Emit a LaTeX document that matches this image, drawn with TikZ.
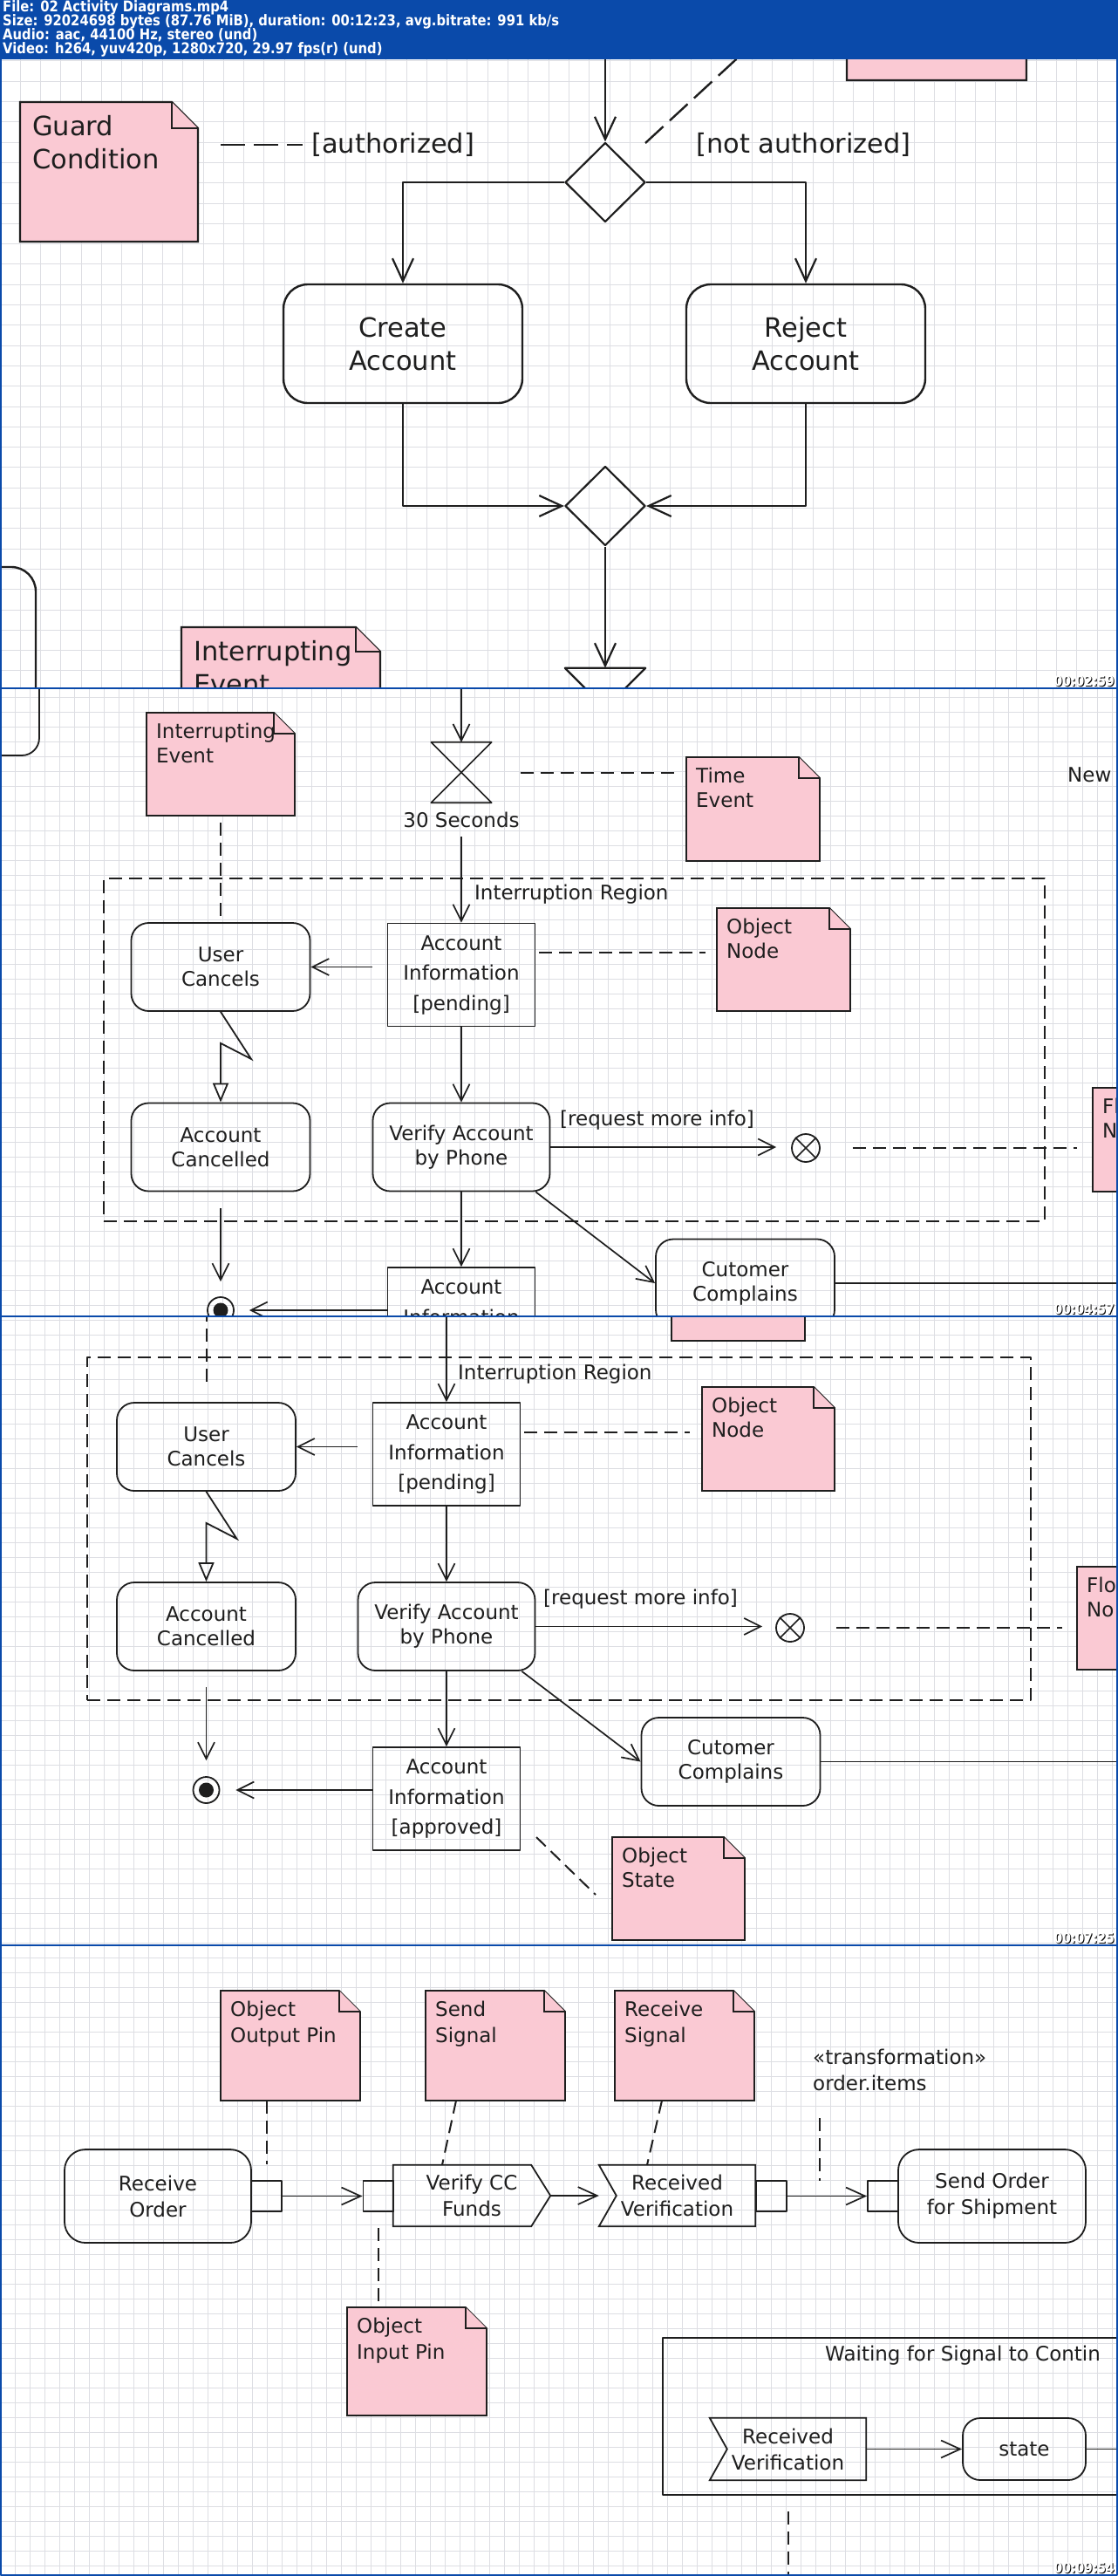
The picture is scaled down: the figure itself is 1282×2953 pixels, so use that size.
\documentclass[tikz,border=0pt]{standalone}
\usepackage{fontspec}
\setmainfont{DejaVu Sans}
\newfontfamily\hdrfont[FakeStretch=0.87]{DejaVu Sans}
\usetikzlibrary{arrows.meta,shapes.geometric}

\definecolor{hdrblue}{RGB}{10,74,170}
\definecolor{notepink}{RGB}{250,201,211}
\definecolor{gridgray}{RGB}{221,222,227}
\definecolor{inkgray}{RGB}{30,30,30}

\newcommand{\fonti}{\fontsize{30.5}{38}\selectfont}
\newcommand{\fontii}{\fontsize{23}{28}\selectfont}
\newcommand{\fontobj}{\fontsize{23}{34.5}\selectfont}
\newcommand{\fontiv}{\fontsize{23}{30}\selectfont}

% pink note with folded corner: name, x1, y1, x2, y2, fold, text
\newcommand{\umlnote}[7]{%
  \node[notebox, minimum width={#4-#2}, minimum height={#5-#3}] (#1) at ({(#2+#4)/2},{(#3+#5)/2}) {};
  \filldraw[notepath] (#1.north west) -- ([xshift=-#6pt]#1.north east) -- ([yshift=-#6pt]#1.north east) -- (#1.south east) -- (#1.south west) -- cycle;
  \draw[notepath] ([xshift=-#6pt]#1.north east) |- ([yshift=-#6pt]#1.north east);
  \node[notetext] (#1-text) at (#1.north west) {#7};
}

\begin{document}
\begin{tikzpicture}[x=1pt,y=-1pt,line join=round]

\tikzstyle{gridline}=[gridgray, line width=1pt]
\tikzstyle{act}=[draw=inkgray, rounded corners=20pt, line width=1.8pt, align=center, inner sep=0pt, minimum width=205pt, minimum height=101pt, text=inkgray, font=\fontii]
\tikzstyle{actbig}=[act, rounded corners=28pt, line width=2.4pt, minimum width=274pt, minimum height=136pt, font=\fonti]
\tikzstyle{obj}=[draw=inkgray, line width=1.8pt, align=center, inner sep=0pt, minimum width=169pt, minimum height=118pt, text=inkgray, font=\fontobj]
\tikzstyle{sig}=[inner sep=0pt, minimum width=180pt, minimum height=70pt, align=center, text=inkgray, font=\fontiv]
\tikzstyle{sigline}=[draw=inkgray, line width=1.8pt, line join=miter]
\tikzstyle{flow}=[->, draw=inkgray, line width=1.7pt]
\tikzstyle{plain}=[draw=inkgray, line width=1.7pt]
\tikzstyle{link}=[draw=inkgray, line width=2pt, dash pattern=on 15pt off 8pt]
\tikzstyle{link1}=[link, line width=2.4pt, dash pattern=on 28pt off 10pt]
\tikzstyle{intr}=[draw=inkgray, line width=1.8pt, line join=miter, -{Triangle[open,length=22pt,width=18pt]}]
\tikzstyle{decision}=[diamond, draw=inkgray, line width=2.2pt, minimum width=92pt, minimum height=91pt, inner sep=0pt]
\tikzstyle{timer}=[inner sep=0pt]
\tikzstyle{lbl}=[text=inkgray, inner sep=0pt, font=\fontii]
\tikzstyle{ffinal}=[circle, draw=inkgray, line width=1.8pt, minimum size=32pt, inner sep=0pt]
\tikzstyle{final}=[circle, draw=inkgray, line width=1.8pt, minimum size=30pt, inner sep=0pt]
\tikzstyle{pinbox}=[draw=inkgray, line width=1.8pt, minimum size=35pt, inner sep=0pt]
\tikzstyle{region}=[draw=inkgray, line width=2pt, dash pattern=on 15pt off 8pt, inner sep=0pt]
\tikzstyle{notebox}=[inner sep=0pt, outer sep=0pt]
\tikzstyle{notepath}=[fill=notepink, draw=inkgray, line width=1.8pt, line join=miter]
\tikzstyle{notetext}=[anchor=north west, inner sep=0pt, align=left, text=inkgray, xshift=11pt, yshift=-12pt, font=\fontii]
\tikzstyle{hdr}=[font=\hdrfont\bfseries\fontsize{17}{16}\selectfont, text=white, anchor=base west, inner sep=0pt]
\tikzstyle{stamp}=[font=\hdrfont\bfseries\fontsize{16}{16}\selectfont, text=white, anchor=base east, inner sep=0pt]
\tikzstyle{stampbg}=[stamp, text=black]

\useasboundingbox (0,0) rectangle (1282,2953);

% header
\fill[hdrblue] (0,0) rectangle (1282,68);
\node[hdr] (hdrfile) at (3,13.5) {File: 02 Activity Diagrams.mp4};
\node[hdr] (hdrsize) at (3,29.5) {Size: 92024698 bytes (87.76 MiB), duration: 00:12:23, avg.bitrate: 991 kb/s};
\node[hdr] (hdraudio) at (3,45.5) {Audio: aac, 44100 Hz, stereo (und)};
\node[hdr] (hdrvideo) at (3,61.5) {Video: h264, yuv420p, 1280x720, 29.97 fps(r) (und)};

% frame 1: decision and merge
\begin{scope}[>={Straight Barb[length=26pt,width=24pt]}, notetext/.append style={font=\fonti, xshift=3pt, yshift=-3pt}, notepath/.append style={line width=2.4pt}, flow/.append style={line width=2.2pt}]
\clip (0,68) rectangle (1282,789);
\fill[white] (0,68) rectangle (1282,789);
\draw[gridline, step=23.3pt] (0,789) grid (1282,68);

\umlnote{decnote1}{971}{-60}{1177}{92}{30}{}
\umlnote{guard}{23}{117}{227}{277}{30}{Guard\\Condition}
\umlnote{intev1}{208}{719}{436}{900}{28}{Interrupting\\Event}
\node[actbig, minimum width=191pt, minimum height=250pt] (prev1) at (-54.5,775) {};

\coordinate (in1) at (694,60);
\node[decision] (dec1) at (694,209) {};
\node[decision] (dec2) at (694,580) {};
\node[actbig] (create) at (462,394) {Create\\Account};
\node[actbig] (reject) at (924,394) {Reject\\Account};
\node[timer, minimum width=92pt, minimum height=92pt] (timer1) at (694,812) {};
\node[lbl, font=\fonti, anchor=west] (auth) at (357,166) {[authorized]};
\node[lbl, font=\fonti, anchor=west] (nauth) at (798,166) {[not authorized]};
\coordinate (dn1a) at (740,164);
\coordinate (dn1b) at (868,46);

\draw[flow] (in1) -- (dec1.north);
\draw[flow] (dec1.west) -| (create.north);
\draw[flow] (dec1.east) -| (reject.north);
\draw[flow] (create.south) |- (dec2.west);
\draw[flow] (reject.south) |- (dec2.east);
\draw[flow] (dec2.south) -- (timer1.north);
\draw[plain, line width=2.2pt] (timer1.north west) -- (timer1.north east) -- (timer1.south west) -- (timer1.south east) -- cycle;
\draw[link1, shorten <=26pt, shorten >=10pt] (guard.east |- auth.west) -- (auth.west);
\draw[link1] (dn1a) -- (dn1b);
\end{scope}

% frame 2: interruption region
\begin{scope}[>={Straight Barb[length=19pt,width=19pt]}]
\clip (0,789) rectangle (1282,1509);
\fill[white] (0,789) rectangle (1282,1509);
\draw[gridline, step=17pt] (0,1509) grid (1282,789);

\node[act, minimum width=194pt, minimum height=332pt] (prev2) at (-52,700) {};
\umlnote{intev2}{168}{817}{338}{935}{24}{Interrupting\\Event}
\umlnote{timenote2}{787}{868}{940}{987}{24}{Time\\Event}
\umlnote{objnote2}{822}{1041}{975}{1159}{24}{Object\\Node}
\umlnote{flownote2}{1253}{1247}{1420}{1366}{24}{Fl\\N}
\node[region, minimum width=1079pt, minimum height=393pt] (ireg2) at (658.5,1203.5) {};
\node[lbl, anchor=west] (reglbl2) at (544,1025) {Interruption Region};
\node[lbl, anchor=west] (newlbl2) at (1224,888) {New};

\coordinate (in2) at (529,780);
\node[timer, minimum width=69pt, minimum height=69pt] (timer2) at (529,885.5) {};
\node[lbl, anchor=north, yshift=-11pt] (sec2) at (timer2.south) {30 Seconds};
\node[obj] (accp2) at (529,1117.5) {Account\\Information\\{[pending]}};
\node[act] (ucancel2) at (253,1108.5) {User\\Cancels};
\node[act] (acanc2) at (253,1315) {Account\\Cancelled};
\node[act, minimum width=203pt] (verify2) at (529,1315) {Verify Account\\by Phone};
\node[ffinal] (ffin2) at (924,1316) {};
\node[lbl, anchor=west] (req2) at (642,1284) {[request more info]};
\node[obj] (appr2) at (529,1512) {Account\\Information\\{[approved]}};
\node[act] (cust2) at (854.5,1471) {Cutomer\\Complains};
\node[final] (end2) at (253,1502) {};
\fill[inkgray] (end2.center) circle (8.5pt);
\coordinate (out2) at (1290,1471);

\draw[flow] (in2) -- (timer2.north);
\draw[plain] (timer2.north west) -- (timer2.north east) -- (timer2.south west) -- (timer2.south east) -- cycle;
\draw[link, shorten <=33pt, shorten >=14pt] (timer2.east) -- (timer2.east -| timenote2.west);
\draw[link, shorten <=8pt] (intev2.south) -- (ucancel2.north);
\draw[flow, shorten <=10pt] (sec2.south) -- (accp2.north);
\path ([yshift=25.5pt]accp2.east) coordinate (ob2);
\draw[link, shorten <=4pt, shorten >=13pt] (ob2) -- (ob2 -| objnote2.west);
\draw[flow, shorten <=17pt] (ucancel2.east -| accp2.west) -- (ucancel2.east);
\draw[intr] (ucancel2.south) -- ++(35,54) -- ++(-35,-18) -- (acanc2.north);
\draw[flow] (accp2.south) -- (verify2.north);
\draw[flow, shorten >=17pt] (verify2.east) -- (verify2.east -| ffin2.west);
\draw[plain] (ffin2.north east) -- (ffin2.south west) (ffin2.north west) -- (ffin2.south east);
\draw[link, shorten <=37pt, shorten >=18pt] (ffin2.east) -- (ffin2.east -| flownote2.west);
\draw[flow] (verify2.south) -- (appr2.north);
\draw[flow] ([xshift=-17pt]verify2.south east) -- (cust2.west);
\draw[plain] (cust2.east) -- (out2);
\draw[flow, shorten <=19pt, shorten >=17pt] (acanc2.south) -- (end2.north);
\draw[flow, shorten >=17pt] (end2.east -| appr2.west) -- (end2.east);
\end{scope}

% frame 3: object state
\begin{scope}[>={Straight Barb[length=19pt,width=19pt]}]
\clip (0,1509) rectangle (1282,2230);
\fill[white] (0,1509) rectangle (1282,2230);
\draw[gridline, step=17pt] (0,2230) grid (1282,1509);

\umlnote{topnote3}{770}{1400}{923}{1537}{24}{}
\umlnote{objnote3}{805}{1590}{957}{1709}{24}{Object\\Node}
\umlnote{flownote3}{1235}{1796}{1420}{1914}{24}{Flo\\No}
\umlnote{statenote3}{702}{2106}{854}{2224}{24}{Object\\State}
\node[region, minimum width=1082pt, minimum height=393pt] (ireg3) at (641,1752.5) {};
\node[lbl, anchor=west] (reglbl3) at (525,1575) {Interruption Region};

\coordinate (in3) at (512,1500);
\coordinate (int3) at (236.5,1500);
\node[obj] (accp3) at (512,1667) {Account\\Information\\{[pending]}};
\node[act] (ucancel3) at (236.5,1658.5) {User\\Cancels};
\node[act] (acanc3) at (236.5,1864.5) {Account\\Cancelled};
\node[act, minimum width=203pt] (verify3) at (512,1864.5) {Verify Account\\by Phone};
\node[ffinal] (ffin3) at (906,1866) {};
\node[lbl, anchor=west] (req3) at (623,1833) {[request more info]};
\node[obj] (appr3) at (512,2062) {Account\\Information\\{[approved]}};
\node[act] (cust3) at (838,2019.5) {Cutomer\\Complains};
\node[final] (end3) at (236.5,2052) {};
\fill[inkgray] (end3.center) circle (8.5pt);
\coordinate (out3) at (1290,2019.5);
\coordinate (st3a) at (615,2106);
\coordinate (st3b) at (683,2172);

\draw[flow] (in3) -- (accp3.north);
\draw[link, shorten >=18pt] (int3) -- (ucancel3.north);
\draw[flow, shorten <=17pt] (ucancel3.east -| accp3.west) -- (ucancel3.east);
\path ([yshift=25pt]accp3.east) coordinate (ob3);
\draw[link, shorten <=4pt, shorten >=14pt] (ob3) -- (ob3 -| objnote3.west);
\draw[intr] (ucancel3.south) -- ++(35,54) -- ++(-35,-18) -- (acanc3.north);
\draw[flow] (accp3.south) -- (verify3.north);
\draw[flow, shorten >=15pt] (verify3.east) -- (verify3.east -| ffin3.west);
\draw[plain] (ffin3.north east) -- (ffin3.south west) (ffin3.north west) -- (ffin3.south east);
\draw[link, shorten <=36pt, shorten >=17pt] (ffin3.east) -- (ffin3.east -| flownote3.west);
\draw[flow] (verify3.south) -- (appr3.north);
\draw[flow] ([xshift=-16pt]verify3.south east) -- (cust3.west);
\draw[plain] (cust3.east) -- (out3);
\draw[flow, shorten <=18pt, shorten >=18pt] (acanc3.south) -- (end3.north);
\draw[flow, shorten >=18pt] (end3.east -| appr3.west) -- (end3.east);
\draw[link] (st3a) -- (st3b);
\end{scope}

% frame 4: pins and signals
\begin{scope}[>={Straight Barb[length=22pt,width=20pt]}, notetext/.append style={font=\fontiv}, act/.append style={font=\fontiv}]
\clip (0,2230) rectangle (1282,2953);
\fill[white] (0,2230) rectangle (1282,2953);
\draw[gridline, step=17pt] (0,2953) grid (1282,2230);

\umlnote{outnote4}{253}{2282}{413}{2408}{24}{Object\\Output Pin}
\umlnote{sendnote4}{488}{2282}{648}{2408}{24}{Send\\Signal}
\umlnote{recvnote4}{705}{2282}{865}{2408}{24}{Receive\\Signal}
\umlnote{innote4}{398}{2645}{558}{2769}{24}{Object\\Input Pin}
\node[lbl, font=\fontiv, anchor=north west, align=left] (xform4) at (932,2349) {«transformation»\\order.items};

\node[act, minimum width=214pt, minimum height=107pt, rounded corners=24pt] (rorder4) at (181,2517.5) {Receive\\Order};
\node[pinbox] (pout4) at (305.5,2517.5) {};
\node[pinbox] (pin4) at (434,2517.5) {};
\node[sig] (vcc4) at (541,2517) {Verify CC\\Funds};
\node[sig, minimum width=179pt] (recv4) at (776.5,2517) {Received\\Verification};
\node[pinbox] (pout4b) at (884.5,2517.5) {};
\node[pinbox] (pin4b) at (1012.5,2517.5) {};
\node[act, minimum width=215pt, minimum height=107pt, rounded corners=24pt] (ship4) at (1137.5,2517.5) {Send Order\\for Shipment};

\node[draw=inkgray, line width=2pt, minimum width=660pt, minimum height=180pt, inner sep=0pt] (wait4) at (1090,2770) {};
\node[lbl, font=\fontiv, anchor=west] (waitlbl4) at (946,2700) {Waiting for Signal to Contin};
\node[sig, minimum width=179pt, minimum height=71pt] (recvw4) at (903.5,2807.5) {Received\\Verification};
\node[act, minimum width=141pt, minimum height=71pt] (state4) at (1174.5,2807.5) {state};
\coordinate (out4) at (1290,2807.5);
\coordinate (xf4a) at (940,2428);
\coordinate (xf4b) at (940,2500);
\coordinate (wt4a) at (904,2879);
\coordinate (wt4b) at (904,2960);

\draw[sigline] (vcc4.north west) -- ([xshift=-22pt]vcc4.north east) -- (vcc4.east) -- ([xshift=-22pt]vcc4.south east) -- (vcc4.south west) -- cycle;
\draw[sigline] (recv4.north west) -- (recv4.north east) -- (recv4.south east) -- (recv4.south west) -- ([xshift=20pt]recv4.west) -- cycle;
\draw[sigline] (recvw4.north west) -- (recvw4.north east) -- (recvw4.south east) -- (recvw4.south west) -- ([xshift=20pt]recvw4.west) -- cycle;
\draw[flow] (pout4.east) -- (pin4.west);
\draw[flow] (vcc4.east) -- (recv4.west);
\draw[flow] (pout4b.east) -- (pin4b.west);
\draw[flow] (recvw4.east) -- (state4.west);
\draw[plain] (state4.east) -- (out4);
\draw[link, shorten >=18pt] (pout4 |- outnote4.south) -- (pout4.north);
\draw[link] ([xshift=-45pt]sendnote4.south) -- ([xshift=-34pt]vcc4.north);
\draw[link] ([xshift=-26pt]recvnote4.south) -- ([xshift=-34.5pt]recv4.north);
\draw[link] (xf4a) -- (xf4b);
\draw[link, shorten <=18pt] (pin4.south) -- (pin4 |- innote4.north);
\draw[link] (wt4a) -- (wt4b);
\end{scope}

% frame borders and time stamps
\draw[hdrblue, line width=2pt] (0,789) -- (1282,789) (0,1509) -- (1282,1509) (0,2230) -- (1282,2230);
\draw[hdrblue, line width=1.6pt] (0.8,68) -- (0.8,2952.2) -- (1281.2,2952.2) -- (1281.2,68);
\foreach \ts/\yy in {00:02:59/786, 00:04:57/1506, 00:07:25/2227, 00:09:54/2949}{
  \node[stampbg] (stampbg\yy) at (1279,\yy+1) {\ts};
  \node[stamp] (stamp\yy) at (1278,\yy) {\ts};
}

\end{tikzpicture}
\end{document}
